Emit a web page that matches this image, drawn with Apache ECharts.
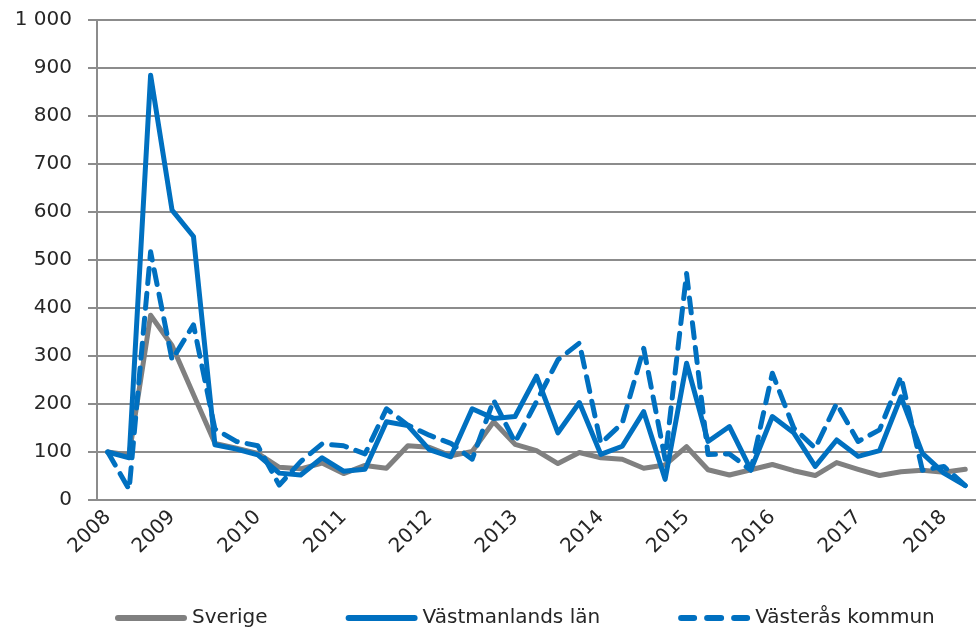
<!DOCTYPE html>
<html>
<head>
<meta charset="utf-8">
<script src="https://cdn.jsdelivr.net/npm/echarts@6/dist/echarts.min.js"></script>
<style>
  html, body { margin: 0; padding: 0; background: #fff; }
  #chart { width: 976px; height: 629px; }
</style>
</head>
<body>
<div id="chart"></div>
<script>
// quarters, 2008 K2 .. 2018 K2
const quarters = [
  '2008K2', '2008K3', '2008K4',
  '2009K1', '2009K2', '2009K3', '2009K4',
  '2010K1', '2010K2', '2010K3', '2010K4',
  '2011K1', '2011K2', '2011K3', '2011K4',
  '2012K1', '2012K2', '2012K3', '2012K4',
  '2013K1', '2013K2', '2013K3', '2013K4',
  '2014K1', '2014K2', '2014K3', '2014K4',
  '2015K1', '2015K2', '2015K3', '2015K4',
  '2016K1', '2016K2', '2016K3', '2016K4',
  '2017K1', '2017K2', '2017K3', '2017K4',
  '2018K1', '2018K2'
];

const sverige = [
  100, 94, 385, 322, 220, 118, 108, 97, 68, 65, 77, 55, 72,
  66, 113, 110, 92, 101, 163, 116, 103, 76, 99, 88, 85,
  66, 73, 111, 63, 52, 63, 74, 61, 51, 78, 64, 51, 59, 62, 58, 64
];

const vastmanland = [
  100, 88, 885, 604, 549, 115, 106, 94, 56, 52, 88, 60, 64,
  163, 155, 105, 90, 190, 170, 174, 258, 140, 203, 95, 112,
  184, 43, 285, 122, 153, 63, 174, 140, 70, 125, 91, 103, 215, 97, 56, 30
];

const vasteras = [
  100, 22, 517, 292, 365, 148, 122, 113, 31, 80, 117, 113, 96,
  190, 156, 135, 118, 85, 208, 120, 205, 292, 327, 118, 160,
  316, 85, 472, 95, 96, 62, 264, 150, 108, 201, 122, 146, 257, 62, 70, 30
];

const seriesNames = ['Sverige', 'Västmanlands län', 'Västerås kommun'];

const chart = echarts.init(document.getElementById('chart'));
const gridColor = '#8c8c8c';
const font = 'DejaVu Sans';
// legend keys drawn like the excel ones: thick bar / three dashes
const solidKey = 'path://M3,0H69A3,3 0 0 1 69,6H3A3,3 0 0 1 3,0Z';
const dashKey = 'path://M3,0H16A3,3 0 0 1 16,6H3A3,3 0 0 1 3,0Z M29,0H43A3,3 0 0 1 43,6H29A3,3 0 0 1 29,0Z M56,0H69A3,3 0 0 1 69,6H56A3,3 0 0 1 56,0Z';

chart.setOption({
  animation: false,
  grid: {
    left: 97,
    top: 20,
    width: 881,
    height: 480
  },
  legend: {
    data: [
      { name: seriesNames[0], icon: solidKey },
      { name: seriesNames[1], icon: solidKey },
      { name: seriesNames[2], icon: dashKey }
    ],
    left: 110,
    top: 603,
    itemWidth: 72,
    itemHeight: 7,
    itemGap: 78,
    textStyle: {
      fontFamily: font,
      fontSize: 20,
      color: '#262626'
    }
  },
  xAxis: {
    type: 'category',
    data: quarters,
    boundaryGap: true,
    axisLine: { lineStyle: { color: gridColor, width: 2 } },
    axisTick: {
      interval: 0,
      length: 7,
      lineStyle: { color: gridColor, width: 2 }
    },
    axisLabel: {
      interval: 0,
      rotate: 45,
      margin: 14,
      fontFamily: font,
      fontSize: 20,
      color: '#262626',
      formatter: (v, i) => (i === 0 || v.endsWith('K1')) ? v.slice(0, 4) : ''
    }
  },
  yAxis: {
    type: 'value',
    min: 0,
    max: 1000,
    interval: 100,
    axisLine: { show: true, lineStyle: { color: gridColor, width: 2 } },
    axisTick: {
      show: true,
      length: 9,
      lineStyle: { color: gridColor, width: 2 }
    },
    splitLine: { lineStyle: { color: gridColor, width: 2 } },
    axisLabel: {
      margin: 25,
      fontFamily: font,
      fontSize: 20,
      color: '#262626',
      formatter: v => v >= 1000 ? '1 000' : String(v)
    }
  },
  series: [
    {
      name: 'Sverige',
      type: 'line',
      data: sverige,
      showSymbol: false,
      symbol: 'none',
      lineStyle: { color: '#808080', width: 5, join: 'round', cap: 'round' },
      itemStyle: { color: '#808080' }
    },
    {
      name: 'Västmanlands län',
      type: 'line',
      data: vastmanland,
      showSymbol: false,
      symbol: 'none',
      lineStyle: { color: '#0070c0', width: 5, join: 'round', cap: 'round' },
      itemStyle: { color: '#0070c0' }
    },
    {
      name: 'Västerås kommun',
      type: 'line',
      data: vasteras,
      showSymbol: false,
      symbol: 'none',
      lineStyle: { color: '#0070c0', width: 5, type: [15, 10], join: 'round', cap: 'round' },
      itemStyle: { color: '#0070c0' }
    }
  ]
});
</script>
</body>
</html>
